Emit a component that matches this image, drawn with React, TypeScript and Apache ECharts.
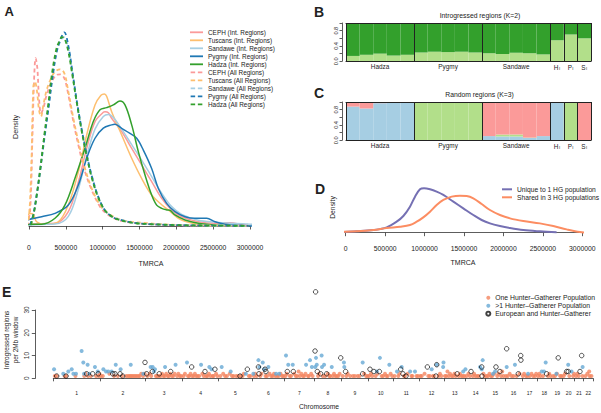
import React, { useEffect, useRef } from 'react';
import * as echarts from 'echarts';

const FONT = '"Liberation Sans", Arial, Helvetica, sans-serif';
const TXT = '#222';

// ---------- Panel A: TMRCA densities (density normalised, peak = 1) ----------
const cephInt: number[][] = [[-145000,0.009],[0,0.01],[172000,0.012],[353000,0.014],[534000,0.074],[670000,0.228],[783000,0.401],[896000,0.539],[1009000,0.587],[1032000,0.59],[1077000,0.585],[1122000,0.556],[1258000,0.487],[1394000,0.401],[1529000,0.315],[1665000,0.229],[1801000,0.143],[1937000,0.083],[2072000,0.048],[2299000,0.022],[2525000,0.014],[2730000,0.017],[2887000,0.008],[2977000,0.005]];
const tuscansInt: number[][] = [[-136000,0.009],[-54000,0.04],[14000,0.065],[59000,0.06],[104000,0.022],[217000,0.009],[398000,0.022],[534000,0.109],[670000,0.28],[783000,0.47],[896000,0.625],[977000,0.675],[1023000,0.682],[1054000,0.67],[1122000,0.59],[1258000,0.47],[1394000,0.35],[1529000,0.246],[1665000,0.16],[1801000,0.11],[1891000,0.083],[2072000,0.03],[2299000,0.008],[2525000,0.0]];
const sandaweInt: number[][] = [[-100000,0.005],[0,0.006],[172000,0.008],[353000,0.01],[534000,0.05],[670000,0.19],[783000,0.36],[896000,0.5],[1009000,0.565],[1077000,0.575],[1145000,0.56],[1258000,0.5],[1394000,0.42],[1529000,0.34],[1665000,0.255],[1801000,0.17],[1937000,0.1],[2072000,0.06],[2299000,0.03],[2525000,0.02],[2751000,0.014],[2977000,0.01],[3204000,0.006],[3453000,0.0]];
const pygmyInt: number[][] = [[-145000,0.014],[-32000,0.031],[172000,0.048],[353000,0.065],[534000,0.108],[670000,0.212],[783000,0.35],[896000,0.453],[1009000,0.505],[1122000,0.522],[1167000,0.525],[1258000,0.504],[1371000,0.478],[1462000,0.453],[1552000,0.392],[1665000,0.297],[1756000,0.194],[1869000,0.117],[1982000,0.074],[2118000,0.048],[2253000,0.04],[2412000,0.04],[2525000,0.022],[2661000,0.009],[2887000,0.002],[3068000,0.0]];
const hadzaInt: number[][] = [[-54000,0.005],[0,0.008],[172000,0.009],[353000,0.04],[489000,0.109],[624000,0.246],[760000,0.401],[873000,0.539],[964000,0.6],[1054000,0.611],[1145000,0.625],[1235000,0.645],[1303000,0.625],[1394000,0.522],[1484000,0.384],[1575000,0.263],[1665000,0.16],[1733000,0.108],[1801000,0.091],[1869000,0.083],[1914000,0.081],[1982000,0.057],[2118000,0.031],[2299000,0.014],[2525000,0.005],[2751000,0.001]];
const cephAll: number[][] = [[-32000,0],[14000,0.075],[45000,0.44],[68000,0.745],[90000,0.866],[113000,0.815],[136000,0.66],[163000,0.582],[195000,0.608],[240000,0.677],[308000,0.745],[376000,0.78],[421000,0.783],[480000,0.762],[534000,0.677],[602000,0.539],[670000,0.418],[760000,0.281],[851000,0.186],[964000,0.1],[1077000,0.057],[1258000,0.026],[1620000,0.01],[2072000,0.003],[2977000,0.0]];
const tuscansAll: number[][] = [[-54000,0],[-9000,0.022],[27000,0.26],[59000,0.72],[81000,0.745],[109000,0.694],[136000,0.599],[163000,0.565],[195000,0.625],[240000,0.702],[299000,0.762],[353000,0.797],[421000,0.809],[480000,0.788],[534000,0.694],[602000,0.556],[670000,0.435],[760000,0.298],[851000,0.194],[964000,0.108],[1077000,0.065],[1258000,0.031],[1620000,0.014],[2072000,0.005],[2977000,0.0]];
const sandaweAll: number[][] = [[20000,0.005],[64000,0.065],[108000,0.17],[153000,0.29],[208000,0.46],[262000,0.61],[317000,0.77],[376000,0.9],[434000,0.96],[470000,0.975],[534000,0.92],[588000,0.79],[647000,0.64],[715000,0.5],[783000,0.37],[851000,0.26],[941000,0.15],[1032000,0.08],[1120000,0.05],[1167000,0.04],[1394000,0.018],[1620000,0.01],[2072000,0.004],[2525000,0.002],[2977000,0.001]];
const pygmyAll: number[][] = [[14000,0.005],[59000,0.06],[104000,0.16],[149000,0.28],[208000,0.45],[262000,0.6],[317000,0.76],[376000,0.9],[434000,0.97],[480000,1.0],[534000,0.93],[588000,0.8],[647000,0.65],[715000,0.5],[783000,0.37],[851000,0.26],[941000,0.15],[1032000,0.08],[1120000,0.05],[1167000,0.04],[1394000,0.018],[1620000,0.01],[2072000,0.004],[2525000,0.002],[2977000,0.001]];
const hadzaAll: number[][] = [[27000,0.005],[68000,0.07],[113000,0.18],[158000,0.31],[208000,0.47],[262000,0.63],[317000,0.8],[376000,0.92],[421000,0.96],[443000,0.975],[480000,0.97],[534000,0.9],[588000,0.78],[647000,0.64],[715000,0.49],[783000,0.36],[851000,0.25],[941000,0.145],[1032000,0.08],[1120000,0.05],[1167000,0.038],[1394000,0.017],[1620000,0.01],[2072000,0.004],[2525000,0.002],[2977000,0.001]];

const popNames = ['CEPH', 'Tuscans', 'Sandawe', 'Pygmy', 'Hadza'];
const popColors = ['#FB9A99', '#FDBF6F', '#A6CEE3', '#1F78B4', '#33A02C'];
const intCurves = [cephInt, tuscansInt, sandaweInt, pygmyInt, hadzaInt];
const allCurves = [cephAll, tuscansAll, sandaweAll, pygmyAll, hadzaAll];

// ---------- Panels B and C: admixture proportions ----------
const groupNames = ['Hadza', 'Pygmy', 'Sandawe', 'H_I', 'P_I', 'S_I'];
const groupSizes = [5, 5, 5, 1, 1, 1];
const bLight = [0.14,0.17,0.2,0.15,0.17, 0.23,0.25,0.24,0.25,0.23, 0.21,0.19,0.22,0.21,0.18, 0.55, 0.7, 0.6];
const bDark = [0.86,0.83,0.8,0.85,0.83, 0.77,0.75,0.76,0.75,0.77, 0.79,0.81,0.78,0.79,0.82, 0.45, 0.3, 0.4];
const cBlue = [0.88,0.83,0.97,0.98,0.99, 0,0,0,0,0, 0.11,0.1,0.1,0.06,0.11, 1,0,0];
const cGreen = [0,0,0,0,0, 1,0.99,1,1,1, 0,0.05,0.05,0.01,0, 0,1,0];
const cPink = [0.12,0.17,0.03,0.02,0.01, 0,0.01,0,0,0, 0.89,0.85,0.85,0.93,0.89, 0,0,1];

// ---------- Panel D ----------
const uniqueHG: number[][] = [[-122000,0.015],[-30000,0.015],[139000,0.03],[351000,0.06],[520000,0.12],[646000,0.248],[731000,0.376],[815000,0.586],[879000,0.812],[942000,0.977],[993000,1.0],[1069000,0.977],[1153000,0.925],[1238000,0.85],[1365000,0.7],[1491000,0.549],[1618000,0.398],[1724000,0.286],[1829000,0.21],[1956000,0.15],[2083000,0.105],[2252000,0.06],[2463000,0.03],[2674000,0.008]];
const sharedHG: number[][] = [[-30000,0.023],[139000,0.03],[351000,0.06],[520000,0.105],[689000,0.135],[815000,0.173],[900000,0.248],[984000,0.346],[1069000,0.474],[1153000,0.624],[1238000,0.737],[1344000,0.812],[1449000,0.835],[1534000,0.827],[1618000,0.774],[1724000,0.647],[1829000,0.511],[1956000,0.398],[2083000,0.323],[2252000,0.263],[2463000,0.21],[2632000,0.15],[2801000,0.075],[2970000,0.015],[3097000,0]];

// ---------- Panel E: [chromosome, position within chromosome (Mb), regions] ----------
const chrLengths = [249,243,198,191,181,171,159,146,141,136,135,134,115,107,103,90,81,78,59,63,48,51];
const chrNames = ['1','2','3','4','5','6','7','8','9','10','11','12','13','14','15','16','17','18','19','20','21','22'];
const oneHG: number[][] = [
[1,8,1],[1,18,1],[1,60,1],[1,68,1],[1,118,1],[1,165,1],[1,172,2],[1,185,1],[1,200,1],[1,228,1],[1,242,1],[1,246,2],
[2,5,1],[2,15,1],[2,50,2],[2,75,1],[2,95,1],[2,118,1],[2,140,1],[2,150,1],[2,158,1],[2,165,1],[2,172,1],[2,180,1],[2,188,1],[2,196,1],[2,205,1],[2,212,1],[2,220,2],[2,230,1],[2,238,2],
[3,10,1],[3,22,2],[3,30,1],[3,55,1],[3,62,1],[3,70,1],[3,80,1],[3,88,2],[3,95,1],[3,102,1],[3,110,2],[3,118,1],[3,125,1],[3,132,2],[3,140,1],[3,148,1],[3,155,2],[3,168,1],[3,175,2],[3,182,1],[3,190,1],
[4,5,1],[4,12,2],[4,28,1],[4,35,1],[4,42,2],[4,50,1],[4,58,1],[4,65,2],[4,72,1],[4,80,1],[4,88,1],[4,105,2],[4,112,1],[4,125,1],[4,132,1],[4,140,2],[4,148,1],[4,160,1],[4,165,1],[4,178,2],[4,185,1],
[5,10,1],[5,25,2],[5,35,1],[5,45,1],[5,60,2],[5,72,1],[5,80,1],[5,95,1],[5,105,1],[5,118,1],[5,128,1],[5,135,2],[5,162,1],[5,170,1],
[6,8,1],[6,15,2],[6,22,1],[6,42,1],[6,48,2],[6,70,1],[6,78,1],[6,92,2],[6,100,1],[6,108,1],[6,115,2],[6,122,1],[6,132,1],[6,140,1],[6,150,2],[6,158,1],[6,165,1],
[7,5,1],[7,12,2],[7,28,1],[7,35,1],[7,52,2],[7,60,1],[7,68,1],[7,75,3],[7,82,1],[7,90,2],[7,98,1],[7,105,1],[7,112,2],[7,125,1],[7,130,1],[7,142,2],[7,150,1],
[8,20,1],[8,25,2],[8,45,1],[8,58,1],[8,72,2],[8,80,1],[8,85,1],[8,98,1],[8,105,2],[8,112,1],[8,120,1],[8,128,1],[8,135,2],
[9,5,1],[9,25,1],[9,32,2],[9,45,1],[9,60,1],[9,70,1],[9,85,1],[9,95,1],[9,120,2],[9,130,1],[9,138,1],
[10,5,1],[10,15,2],[10,22,1],[10,40,1],[10,50,2],[10,72,1],[10,80,1],[10,90,2],[10,98,1],[10,105,1],[10,120,2],[10,128,1],
[11,5,1],[11,25,1],[11,30,2],[11,55,1],[11,60,1],[11,75,2],[11,95,1],[11,100,1],[11,122,1],[11,130,1],
[12,8,1],[12,15,1],[12,30,2],[12,50,1],[12,58,1],[12,75,1],[12,80,1],[12,105,1],[12,112,2],[12,120,1],
[13,5,1],[13,12,1],[13,18,3],[13,25,1],[13,32,2],[13,40,1],[13,48,1],[13,55,2],[13,62,1],[13,78,1],[13,85,2],[13,92,1],[13,100,1],[13,108,1],
[14,5,1],[14,15,2],[14,22,1],[14,38,1],[14,45,2],[14,52,1],[14,62,1],[14,70,1],[14,95,2],[14,102,1],
[15,5,1],[15,12,1],[15,20,2],[15,28,1],[15,35,1],[15,45,2],[15,62,1],[15,68,2],[15,82,1],[15,88,3],[15,95,1],
[16,5,1],[16,15,1],[16,25,2],[16,35,1],[16,45,1],[16,62,1],[16,78,2],
[17,5,1],[17,12,2],[17,22,1],[17,30,1],[17,42,1],[17,52,2],[17,60,1],[17,70,1],[17,76,2],
[18,5,1],[18,12,2],[18,18,1],[18,32,1],[18,58,1],[18,65,2],[18,72,1],
[19,8,1],[19,18,1],[19,28,2],[19,45,1],[19,52,1],
[20,5,1],[20,12,2],[20,35,1],[20,55,1],[20,60,2],
[21,8,1],[21,15,2],[21,22,1],[21,42,1],
[22,10,1],[22,20,2],[22,30,3],[22,32,1],[22,42,1]];
const multiHG: number[][] = [
[1,4,4],[1,53,2],[1,80,3],[1,98,4],[1,107,2],[1,121,2],[1,151,12],[1,160,7],[1,164,2],[1,183,6],[1,192,2],[1,222,5],[1,237,3],
[2,18,4],[2,32,3],[2,44,3],[2,62,3],[2,84,6],[2,110,4],[2,164,6],[2,231,2],
[3,27,5],[3,38,5],[3,45,3],[3,50,4],[3,104,5],[3,160,6],
[4,23,7],[4,98,6],[4,142,5],[4,154,4],
[5,17,5],[5,65,3],[5,146,2],
[6,5,2],[6,32,8],[6,37,5],[6,55,7],[6,62,4],[6,85,5],[6,126,2],[6,143,2],
[7,8,10],[7,20,6],[7,44,6],[7,115,6],[7,136,8],[7,146,5],
[8,5,5],[8,9,9],[8,13,6],[8,39,10],[8,41,5],[8,52,6],[8,93,5],
[9,12,7],[9,14,5],[9,112,7],
[10,47,3],[10,63,9],[10,113,6],
[11,18,3],[11,43,5],[11,88,3],[11,114,3],
[12,68,4],[12,95,6],[12,129,5],[12,131,7],
[13,102,3],[13,114,4],
[14,77,5],[14,86,4],[14,91,8],
[15,39,2],[15,50,3],
[16,9,5],[16,53,6],
[17,33,2],
[18,25,3],[18,37,3],[18,46,7],
[19,25,2],
[20,29,6],[20,47,3],
[21,43,5]];
const euroHG: number[][] = [
[1,18,1],[1,68,1],[1,178,2],[1,210,2],[1,240,2],
[2,68,2],[2,80,2],[2,107,2],[2,121,1],[2,240,7],
[3,6,2],[3,36,3],[3,73,2],[3,134,3],
[4,48,5],[4,119,3],[4,172,4],
[5,115,1],[5,154,4],
[6,32,5],[6,35,2],[6,67,4],[6,72,3],
[7,15,3],[7,47,3],
[8,4,12],[8,7,38],[8,16,3],[8,34,2],[8,66,2],[8,141,9],
[9,21,3],[9,112,2],
[10,10,4],[10,31,3],[10,60,3],
[11,38,4],[11,50,2],[11,66,1],
[12,45,5],[12,91,1],[12,95,6],
[13,70,2],
[14,29,3],[14,86,5],[14,87,1],
[15,55,5],[15,76,3],
[16,9,13],[16,71,2],[16,84,10],[16,85,8],
[18,51,2],
[19,35,9],
[20,21,3],[20,29,3],
[21,29,3],[21,38,10]];
const eYTickMax = 30;
const eYInterval = 10;

const DASH_ICON = 'path://M0,0h5v2h-5zM8,0h5v2h-5z';

export default function App() {
  const ref = useRef<HTMLDivElement>(null);
  useEffect(() => {
    const chart = echarts.init(ref.current!, null, { renderer: 'svg' });

    const chrOffsets: number[] = [];
    let acc = 0;
    chrLengths.forEach((l) => { chrOffsets.push(acc); acc += l; });
    const genomeLen = acc;
    const chrBounds = [...chrOffsets, genomeLen];
    const chrCenters = chrLengths.map((l, i) => chrOffsets[i] + l / 2);
    const toGenome = (pts: number[][]) => pts.map(([c, p, v]) => [chrOffsets[c - 1] + p, v]);

    const indiv: string[] = [];
    const starts: number[] = [];
    const labelIdx: number[] = [];
    groupNames.forEach((g, gi) => {
      starts.push(indiv.length);
      labelIdx.push(indiv.length + Math.floor(groupSizes[gi] / 2));
      for (let k = 0; k < groupSizes[gi]; k++) indiv.push(g + '#' + k);
    });

    const lineS = (name: string, data: number[][], color: string, dashed: boolean, xi: number, yi: number, width: number) => ({
      type: 'line', name, data, xAxisIndex: xi, yAxisIndex: yi, symbol: 'none', showSymbol: false,
      smooth: 0.35, clip: false, silent: true,
      lineStyle: { color, width, type: dashed ? [4, 3] : 'solid' },
      itemStyle: { color },
    });

    const axisLineStyle = { color: '#333', width: 0.8 };
    const valueX = (gridIndex: number, offset: number, margin: number) => ({
      gridIndex, type: 'value', min: 0, max: 3000000, interval: 500000, offset,
      axisLine: { show: true, lineStyle: axisLineStyle },
      axisTick: { show: true, length: 3.5, lineStyle: axisLineStyle },
      axisLabel: { fontSize: 6.8, color: TXT, margin, showMinLabel: true, showMaxLabel: true, fontFamily: FONT,
        formatter: (v: number) => String(Math.round(v)) },
      splitLine: { show: false },
    });

    const boxLine = { color: '#222', width: 1 };
    const catBottom = (gridIndex: number) => ({
      gridIndex, type: 'category', data: indiv, position: 'bottom', z: 10,
      axisLine: { show: true, lineStyle: boxLine },
      axisTick: { show: false },
      axisLabel: {
        interval: (i: number) => labelIdx.includes(i),
        margin: 2.5,
        formatter: (v: string) => {
          const g = v.split('#')[0];
          if (g.includes('_')) { const [a, b] = g.split('_'); return '{m|' + a + '}{s|' + b + '}'; }
          return '{m|' + g + '}';
        },
        rich: {
          m: { fontSize: 6.4, color: TXT, fontFamily: FONT },
          s: { fontSize: 4.2, color: TXT, fontFamily: FONT, padding: [3, 0, 0, 0.5] },
        },
      },
      splitLine: { show: true, interval: (i: number) => starts.includes(i), lineStyle: boxLine },
    });
    const catTop = (gridIndex: number) => ({
      gridIndex, type: 'category', data: indiv, position: 'top', z: 10,
      axisLine: { show: true, lineStyle: boxLine }, axisTick: { show: false }, axisLabel: { show: false }, splitLine: { show: false },
    });
    const propY = (gridIndex: number) => ({
      gridIndex, type: 'value', min: 0, max: 1, interval: 0.2, offset: 4,
      axisLine: { show: true, lineStyle: axisLineStyle },
      axisTick: { show: true, length: 2.5, lineStyle: axisLineStyle },
      axisLabel: {
        rotate: 90, fontSize: 5.6, color: TXT, margin: 3, fontFamily: FONT,
        formatter: (v: number) => (Math.abs(v) < 1e-6 ? '0.0' : Math.abs(v - 0.4) < 1e-6 ? '0.4' : Math.abs(v - 0.8) < 1e-6 ? '0.8' : ''),
      },
      splitLine: { show: false },
    });
    const barS = (name: string, data: number[], color: string, xi: number, yi: number, stack: string) => ({
      type: 'bar', name, data, xAxisIndex: xi, yAxisIndex: yi, stack, barCategoryGap: '0%', barGap: '0%',
      itemStyle: { color }, silent: true, z: 2,
    });

    const txt = (text: string, x: number, y: number, size: number, opts: any = {}) => ({
      type: 'text', x, y, rotation: opts.rot || 0, silent: true,
      style: {
        text, fill: TXT, font: (opts.bold ? 'bold ' : '') + size + 'px ' + FONT,
        align: 'center', verticalAlign: 'middle', textAlign: 'center', textVerticalAlign: 'middle',
      },
    });

    const aNamesInt = popNames.map((p) => p + ' (Int. Regions)');
    const aNamesAll = popNames.map((p) => p + ' (All Regions)');
    const eNames = ['One Hunter\u2013Gatherer Population', '>1 Hunter\u2013Gatherer Population', 'European and Hunter\u2013Gatherer'];
    const dNames = ['Unique to 1 HG population', 'Shared in 3 HG populations'];

    const option: any = {
      animation: false,
      backgroundColor: '#fff',
      textStyle: { fontFamily: FONT },
      grid: [
        { left: 29, top: 32.3, width: 221, height: 193.7 },
        { left: 346, top: 23, width: 245, height: 38.3 },
        { left: 346, top: 102, width: 245, height: 38.3 },
        { left: 345.7, top: 188.3, width: 236.6, height: 44.4 },
        { left: 53.3, top: 288.4, width: 539.8, height: 93.4 },
        // E: y axis drawn only over 0..30, as in the reference
        { left: 35.3, top: 310, width: 10, height: 68.3 },
      ],
      xAxis: [
        valueX(0, 8.5, 9),
        catBottom(1), catTop(1),
        catBottom(2), catTop(2),
        valueX(3, 6.3, 6),
        {
          gridIndex: 4, type: 'value', min: 0, max: genomeLen,
          axisLine: { show: true, lineStyle: axisLineStyle },
          axisTick: { show: true, length: 3, lineStyle: axisLineStyle, customValues: chrBounds },
          axisLabel: {
            customValues: chrCenters, fontSize: 5, color: '#222', margin: 8.5, fontFamily: FONT,
            formatter: (v: number) => {
              let best = 0;
              chrCenters.forEach((c, i) => { if (Math.abs(c - v) < Math.abs(chrCenters[best] - v)) best = i; });
              return chrNames[best];
            },
          },
          splitLine: { show: false },
        },
        { gridIndex: 5, type: 'value', min: 0, max: 1, show: false },
      ],
      yAxis: [
        { gridIndex: 0, type: 'value', min: 0, max: 1, show: false },
        propY(1), propY(2),
        { gridIndex: 3, type: 'value', min: 0, max: 1, show: false },
        { gridIndex: 4, type: 'value', min: -1.52, max: 39.52, show: false },
        {
          gridIndex: 5, type: 'value', min: 0, max: eYTickMax, interval: eYInterval,
          axisLine: { show: true, lineStyle: axisLineStyle },
          axisTick: { show: true, length: 3.5, lineStyle: axisLineStyle },
          axisLabel: { rotate: 90, fontSize: 6.5, color: '#333', margin: 5, fontFamily: FONT, showMinLabel: true, showMaxLabel: true },
          splitLine: { show: false },
        },
      ],
      legend: [
        {
          left: 190, top: 28.3, orient: 'vertical', itemWidth: 13, itemHeight: 1.8, itemGap: 0, padding: 0,
          selectedMode: false,
          data: [
            ...aNamesInt.map((n) => ({ name: n, icon: 'rect' })),
            ...aNamesAll.map((n) => ({ name: n, icon: DASH_ICON })),
          ],
          textStyle: { fontSize: 6.4, color: TXT, lineHeight: 8, fontFamily: FONT },
        },
        {
          left: 502, top: 185.3, orient: 'vertical', itemWidth: 10, itemHeight: 2, itemGap: 0, padding: 0,
          selectedMode: false, data: dNames.map((n) => ({ name: n, icon: 'rect' })),
          textStyle: { fontSize: 6.7, color: TXT, lineHeight: 8, fontFamily: FONT },
        },
        {
          left: 485.3, top: 293.7, orient: 'vertical', itemWidth: 4, itemHeight: 4, itemGap: 0, padding: 0,
          selectedMode: false, data: eNames,
          textStyle: { fontSize: 6.8, color: TXT, lineHeight: 8, fontFamily: FONT },
        },
      ],
      series: [
        ...intCurves.map((d, i) => lineS(aNamesInt[i], d, popColors[i], false, 0, 0, 1.5)),
        ...allCurves.map((d, i) => lineS(aNamesAll[i], d, popColors[i], true, 0, 0, 1.8)),
        barS('B light', bLight, '#B2DF8A', 1, 1, 'b'),
        barS('B dark', bDark, '#33A02C', 1, 1, 'b'),
        barS('C blue', cBlue, '#A6CEE3', 3, 2, 'c'),
        barS('C green', cGreen, '#B2DF8A', 3, 2, 'c'),
        barS('C pink', cPink, '#FB9A99', 3, 2, 'c'),
        lineS(dNames[0], uniqueHG, '#7570B3', false, 5, 3, 2),
        lineS(dNames[1], sharedHG, '#FC8D62', false, 5, 3, 2),
        {
          type: 'scatter', name: eNames[0], data: toGenome(oneHG), xAxisIndex: 6, yAxisIndex: 4,
          symbol: 'circle', symbolSize: 4, itemStyle: { color: '#F4845F' }, silent: true, clip: false,
        },
        {
          type: 'scatter', name: eNames[1], data: toGenome(multiHG), xAxisIndex: 6, yAxisIndex: 4,
          symbol: 'circle', symbolSize: 4, itemStyle: { color: '#67A9D4' }, silent: true, clip: false,
        },
        {
          type: 'scatter', name: eNames[2], data: toGenome(euroHG), xAxisIndex: 6, yAxisIndex: 4,
          symbol: 'circle', symbolSize: 4.5, itemStyle: { color: 'rgba(0,0,0,0)', borderColor: '#111', borderWidth: 0.9 },
          silent: true, clip: false,
        },
      ],
      graphic: [
        txt('A', 9.2, 11.3, 13, { bold: true }),
        txt('B', 319, 12, 14, { bold: true }),
        txt('C', 319, 92.5, 14, { bold: true }),
        txt('D', 320, 188.8, 14, { bold: true }),
        txt('E', 6.7, 292, 14, { bold: true }),
        txt('Introgressed regions (K=2)', 480, 15, 6.8),
        txt('Random regions (K=3)', 479.5, 94, 6.8),
        txt('TMRCA', 151, 263, 7),
        txt('Density', 15, 127, 7.2, { rot: Math.PI / 2 }),
        txt('TMRCA', 463, 262.5, 7),
        txt('Density', 332.5, 207.5, 6.8, { rot: Math.PI / 2 }),
        txt('Chromosome', 319, 406.7, 6.7),
        txt('Introgressed regions', 6.5, 340, 6.4, { rot: Math.PI / 2 }),
        txt('per 2Mb window', 15.2, 340, 6.4, { rot: Math.PI / 2 }),
      ],
    };

    chart.setOption(option);
    return () => chart.dispose();
  }, []);
  return <div ref={ref} style={{ position: 'fixed', left: 0, top: 0, width: 601, height: 413, background: '#fff' }} />;
}
